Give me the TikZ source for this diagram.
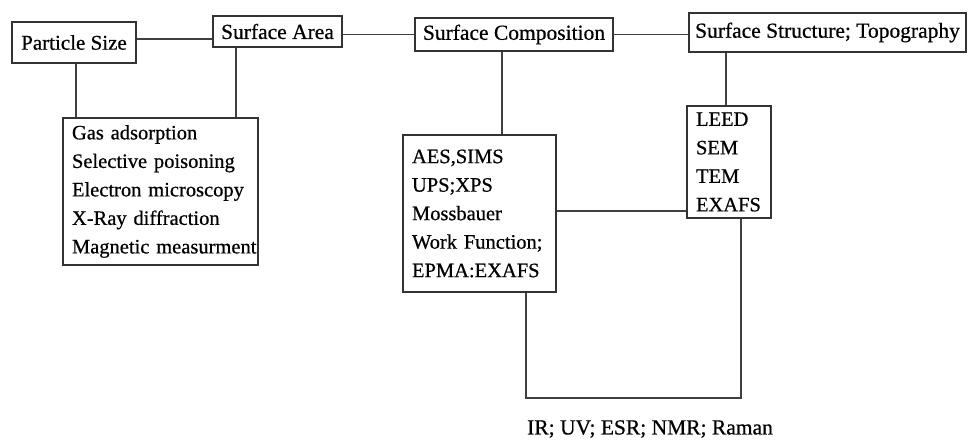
\documentclass[tikz,border=0pt]{standalone}
\usepackage{fontspec}
\setmainfont{Liberation Serif}[FakeBold=0.6]
\begin{document}
\begin{tikzpicture}[x=1pt,y=-1pt,
 txt/.style={font=\fontsize{20.5}{28.5}\selectfont},
 big/.style={font=\fontsize{21.5}{28.5}\selectfont},
 box/.style={draw=black!80,line width=1.4pt,inner sep=0pt},
 head/.style={box,big,align=center},
 list/.style={box,txt,align=left,inner xsep=9pt},
 conn/.style={draw=black!75,line width=1.3pt}]
\useasboundingbox[fill=white] (0,0) rectangle (973,447);
% header boxes
\node[head,minimum width=124pt,minimum height=41pt,font=\fontsize{21}{28.5}\selectfont] (ps) at (74,42.5) {Particle Size};
\node[head,minimum width=129pt,minimum height=31pt] (sa) at (277.5,31.5) {Surface Area};
\node[head,minimum width=198pt,minimum height=33pt] (sc) at (514,34.5) {Surface Composition};
\node[head,minimum width=277pt,minimum height=39pt] (ss) at (827.5,32.5) {Surface Structure; Topography};
% list boxes
\node[list,text width=177pt,minimum height=147pt] (gas) at (160.5,191.5)
 {Gas adsorption\\Selective poisoning\\Electron microscopy\\X-Ray diffraction\\\mbox{Magnetic measurment}};
\node[list,text width=135pt,minimum height=157pt] (meth) at (479.5,213.5)
 {AES,SIMS\\UPS;XPS\\Mossbauer\\Work Function;\\EPMA:EXAFS};
\node[list,text width=66pt,minimum height=112pt] (leed) at (729,162)
 {LEED\\SEM\\TEM\\EXAFS};
% label
\node[big,anchor=west,inner sep=0pt] (lab) at (527,429) {IR; UV; ESR; NMR; Raman};
\coordinate (loop) at (741,398);
% connectors
\draw[conn] ([yshift=3.5pt]ps.east) -- ([yshift=3.5pt]ps.east -| sa.west);
\draw[conn] (sa.east |- sc.west) -- (sc.west);
\draw[conn] (sc.east) -- (sc.east -| ss.west);
\draw[conn] ([xshift=2pt]ps.south) -- ([xshift=2pt]ps.south |- gas.north);
\draw[conn] ([xshift=-41.5pt]sa.south) -- ([xshift=-41.5pt]sa.south |- gas.north);
\draw[conn] ([xshift=-12pt]sc.south) -- ([xshift=-12pt]sc.south |- meth.north);
\draw[conn] ([xshift=-3pt]leed.north) -- ([xshift=-3pt]leed.north |- ss.south);
\draw[conn] ([yshift=2.5pt]meth.east) -- ([yshift=2.5pt]meth.east -| leed.west);
\draw[conn] ([xshift=46.5pt]meth.south) |- (loop) -- (loop |- leed.south);
\end{tikzpicture}
\end{document}
